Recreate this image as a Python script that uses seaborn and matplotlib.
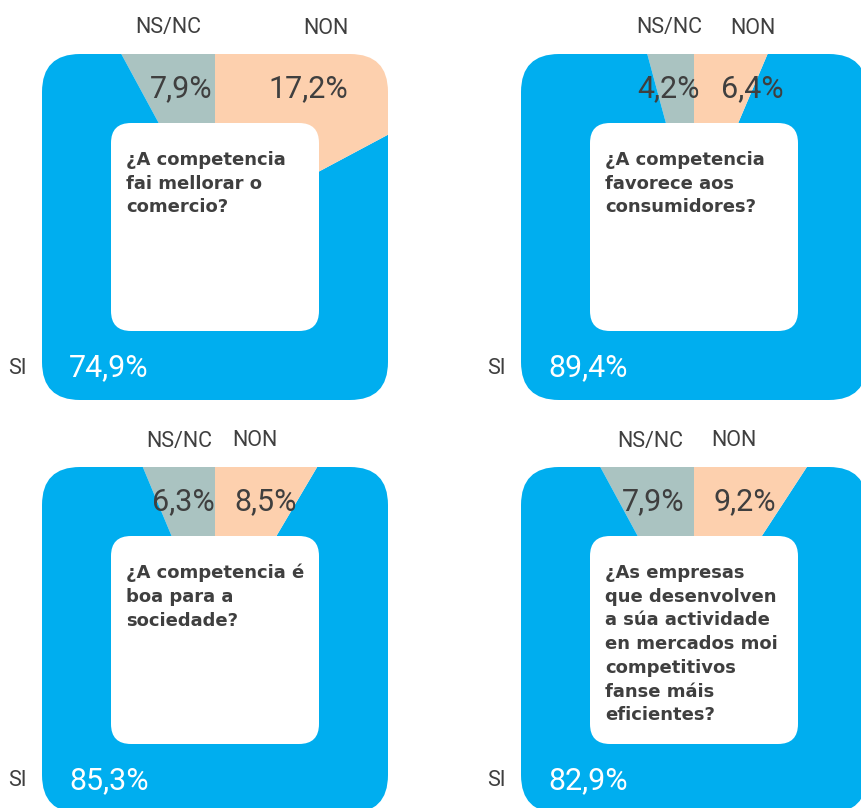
import matplotlib
matplotlib.use("Agg")
import matplotlib.pyplot as plt
import seaborn as sns
from matplotlib.patches import FancyBboxPatch

# survey answers (percent) per question
questions = [
    "¿A competencia\nfai mellorar o\ncomercio?",
    "¿A competencia\nfavorece aos\nconsumidores?",
    "¿A competencia é\nboa para a\nsociedade?",
    "¿As empresas\nque desenvolven\na súa actividade\nen mercados moi\ncompetitivos\nfanse máis\neficientes?",
]
si_vals = [74.9, 89.4, 85.3, 82.9]
nsnc_vals = [7.9, 4.2, 6.3, 7.9]
non_vals = [17.2, 6.4, 8.5, 9.2]

BLUE = "#00aeef"
GRAY = "#aac3c1"
PEACH = "#fdd0ae"
DARK = "#3f3f3f"

W, H = 861, 808
HALF = 173      # half side of the outer rounded square
INNER = 104     # half side of the white box

# panel centres in pixels (from top-left)
centers = [(215, 227), (694, 227), (215, 640), (694, 640)]
# x offsets of header labels (NS/NC, NON) and of the pct labels
head_dx = [(-47, 111), (-25, 59), (-36, 40), (-44, 40)]
pct_dx = [(-34, 93), (-26, 58), (-32, 51), (-41, 51)]

sns.set_theme(style="white")
plt.rcParams["font.family"] = ["Roboto", "DejaVu Sans"]


def fmt(v):
    return f"{v:.1f}".replace(".", ",") + "%"


fig = plt.figure(figsize=(W / 100, H / 100), dpi=100)
ax = fig.add_axes([0, 0, 1, 1])

for i, (cx, cy) in enumerate(centers):
    y = H - cy
    wedges, _ = ax.pie(
        [nsnc_vals[i], si_vals[i], non_vals[i]],
        colors=[GRAY, BLUE, PEACH],
        startangle=90,
        counterclock=True,
        center=(cx, y),
        radius=HALF * 1.5,
        wedgeprops=dict(linewidth=0),
    )
    # rounded square used to cut the pie
    clip = FancyBboxPatch((cx - HALF, y - HALF), 2 * HALF, 2 * HALF,
                          boxstyle="round,pad=0,rounding_size=38",
                          facecolor="none", edgecolor="none")
    ax.add_patch(clip)
    for w in wedges:
        w.set_clip_on(True)  # pie turns clipping off
        w.set_clip_path(clip)

    box = FancyBboxPatch((cx - INNER, y - INNER), 2 * INNER, 2 * INNER,
                         boxstyle="round,pad=0,rounding_size=20",
                         facecolor="white", edgecolor="none", zorder=3)
    ax.add_patch(box)
    ax.text(cx - 89, y + 76, questions[i], ha="left", va="top",
            fontsize=13, fontweight="bold", color=DARK,
            family="DejaVu Sans", linespacing=1.41, zorder=4)

    # header labels
    ax.text(cx + head_dx[i][0], y + 199, "NS/NC", ha="center", va="center",
            fontsize=15.5, color=DARK)
    ax.text(cx + head_dx[i][1], y + 199, "NON", ha="center", va="center",
            fontsize=15.5, color=DARK)

    # slice values
    ax.text(cx + pct_dx[i][0], y + 138, fmt(nsnc_vals[i]), ha="center",
            va="center", fontsize=22, color=DARK, zorder=4)
    ax.text(cx + pct_dx[i][1], y + 138, fmt(non_vals[i]), ha="center",
            va="center", fontsize=22, color=DARK, zorder=4)
    ax.text(cx - 146, y - 141, fmt(si_vals[i]), ha="left", va="center",
            fontsize=22, color="white", zorder=4)
    ax.text(cx - 198, y - 141, "SI", ha="center", va="center",
            fontsize=15.5, color=DARK)

ax.set_xlim(0, W)
ax.set_ylim(0, H)
ax.set_aspect("equal")
ax.axis("off")

fig.savefig("out.png", dpi=100, facecolor="white")
